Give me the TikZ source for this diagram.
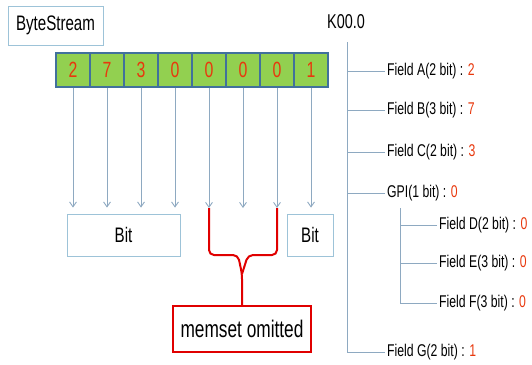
\documentclass[tikz,border=0pt]{standalone}
\usepackage{fontspec}
\setmainfont{Liberation Sans}[FakeStretch=0.72]
\usepackage{tikz}
\usetikzlibrary{positioning, arrows.meta, calc}
\definecolor{cellgreen}{HTML}{92D050}
\definecolor{cellborder}{HTML}{41719C}
\definecolor{digitred}{HTML}{E8380D}
\definecolor{linkblue}{HTML}{8EA9C1}
\definecolor{boxblue}{HTML}{9DC3D8}
\definecolor{bracered}{HTML}{E00000}

\begin{document}
\begin{tikzpicture}[x=1pt, y=-1pt,
    lbl/.style={font=\fontsize{21}{24}\selectfont},
    field/.style={font=\fontsize{17}{19}\selectfont, anchor=west, inner sep=2pt},
    bitbox/.style={draw=boxblue, line width=0.8pt, lbl, minimum height=42pt},
    cell/.style={draw=cellborder, fill=cellgreen, line width=1.2pt,
                 minimum width=34pt, minimum height=34pt, text=digitred,
                 font=\fontsize{22}{24}\selectfont},
    link/.style={draw=linkblue, line width=0.9pt},
    down/.style={link, -{Straight Barb[angle=70:6pt]}},
    brace/.style={draw=bracered, line width=2pt, rounded corners=5pt}]
  \useasboundingbox (0,0) rectangle (532,364);

  % byte stream
  \node[draw=boxblue, line width=0.8pt, font=\fontsize{21}{24}\selectfont,
        minimum width=95pt, minimum height=39pt] (bs) at (55.5,25.5) {ByteStream};
  \foreach \d [count=\i] in {2,7,3,0,0,0,0,1}
    \node[cell] (b\i) at ({56+34*(\i-1)+17},70) {\d};

  % bits
  \node[bitbox, minimum width=113pt] (lbit) at (123.5,235) {Bit};
  \node[bitbox, minimum width=46pt] (rbit) at (310,235) {Bit};
  \node[draw=bracered, line width=2pt, font=\fontsize{24}{27}\selectfont,
        minimum width=138pt, minimum height=46pt] (memset) at (242,329) {memset omitted};

  \foreach \i in {1,...,4}
    \draw[down, shorten >=6pt] (b\i) -- (b\i |- lbit.north);
  \draw[down, shorten >=6pt] (b8) -- (b8 |- rbit.north);
  \coordinate (brtop) at (0,208);
  \foreach \i in {5,6,7} {
    \coordinate (t\i) at (b\i |- brtop);
    \draw[down] (b\i) -- (t\i);
  }

  % brace
  \draw[brace] (t5) -- ++(0,47) -- ++(29,0) -- ($(memset.north)+(0,-31)$) -- (memset.north);
  \draw[brace] (t7) -- ++(0,47) -- ++(-29,0) -- ($(memset.north)+(0,-31)$);

  % field tree
  \node[font=\fontsize{20}{23}\selectfont] (k) at (346,22) {K00.0};
  \coordinate (root) at (347,42);
  \node[field] (fa) at (385,71) {Field A(2 bit) : \textcolor{digitred}{2}};
  \node[field] (fb) at (385,110) {Field B(3 bit) : \textcolor{digitred}{7}};
  \node[field] (fc) at (385,152) {Field C(2 bit) : \textcolor{digitred}{3}};
  \node[field] (gpi) at (385,193) {GPI(1 bit) : \textcolor{digitred}{0}};
  \node[field] (fd) at (437,225) {Field D(2 bit) : \textcolor{digitred}{0}};
  \node[field] (fe) at (437,263) {Field E(3 bit) : \textcolor{digitred}{0}};
  \node[field] (ff) at (437,303) {Field F(3 bit) : \textcolor{digitred}{0}};
  \node[field] (fg) at (385,352) {Field G(2 bit) : \textcolor{digitred}{1}};

  \draw[link] (root) |- (fg.west);
  \foreach \n in {fa,fb,fc,gpi}
    \draw[link] (\n.west) -- (\n.west -| root);
  \coordinate (sub) at (400,208);
  \draw[link] (sub) |- (ff.west);
  \foreach \n in {fd,fe}
    \draw[link] (\n.west) -- (\n.west -| sub);
\end{tikzpicture}
\end{document}
